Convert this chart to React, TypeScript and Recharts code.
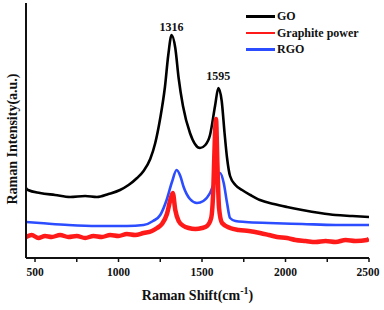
import React from "react";
import { LineChart, Line, XAxis, YAxis, ReferenceDot } from "recharts";

const goData = [
  { x: 446, y: 70 }, { x: 458, y: 68 }, { x: 530, y: 65 }, { x: 620, y: 63 },
  { x: 710, y: 61 }, { x: 800, y: 62 }, { x: 871, y: 61 }, { x: 940, y: 64 },
  { x: 1009, y: 68 }, { x: 1060, y: 73 }, { x: 1111, y: 80 }, { x: 1150, y: 87 },
  { x: 1190, y: 99 }, { x: 1220, y: 115 }, { x: 1250, y: 140 }, { x: 1278, y: 171 },
  { x: 1298, y: 203 }, { x: 1318, y: 223 }, { x: 1340, y: 210 }, { x: 1360, y: 180 },
  { x: 1386, y: 152 }, { x: 1428, y: 125 }, { x: 1488, y: 110 }, { x: 1520, y: 113 },
  { x: 1548, y: 123 }, { x: 1578, y: 152 }, { x: 1598, y: 170 }, { x: 1618, y: 157 },
  { x: 1635, y: 125 }, { x: 1650, y: 100 }, { x: 1668, y: 82 }, { x: 1700, y: 73 },
  { x: 1740, y: 68 }, { x: 1790, y: 63 }, { x: 1847, y: 58 }, { x: 1930, y: 54 },
  { x: 2009, y: 51 }, { x: 2100, y: 48 }, { x: 2207, y: 45 }, { x: 2300, y: 43 },
  { x: 2400, y: 42 }, { x: 2500, y: 41 },
];

const graphiteData = [
  { x: 446, y: 21 }, { x: 480, y: 23 }, { x: 520, y: 20 }, { x: 560, y: 22 },
  { x: 600, y: 21 }, { x: 650, y: 23 }, { x: 700, y: 21 }, { x: 750, y: 22 },
  { x: 800, y: 20 }, { x: 850, y: 22 }, { x: 900, y: 21 }, { x: 950, y: 23 },
  { x: 1000, y: 22 }, { x: 1050, y: 24 }, { x: 1100, y: 23 }, { x: 1150, y: 25 },
  { x: 1200, y: 27 }, { x: 1231, y: 30 }, { x: 1260, y: 34 }, { x: 1290, y: 44 },
  { x: 1310, y: 58 }, { x: 1325, y: 65 }, { x: 1340, y: 48 }, { x: 1360, y: 37 },
  { x: 1390, y: 32 }, { x: 1420, y: 30 }, { x: 1460, y: 29 }, { x: 1500, y: 30 },
  { x: 1530, y: 32 }, { x: 1555, y: 40 }, { x: 1568, y: 70 }, { x: 1577, y: 120 },
  { x: 1584, y: 139 }, { x: 1592, y: 95 }, { x: 1602, y: 50 }, { x: 1620, y: 35 },
  { x: 1668, y: 30 }, { x: 1720, y: 28 }, { x: 1780, y: 27 }, { x: 1847, y: 25 },
  { x: 1900, y: 23 }, { x: 1950, y: 21 }, { x: 2009, y: 20 }, { x: 2060, y: 18 },
  { x: 2120, y: 17 }, { x: 2180, y: 16 }, { x: 2240, y: 17 }, { x: 2300, y: 16 },
  { x: 2360, y: 18 }, { x: 2420, y: 17 }, { x: 2488, y: 18 }, { x: 2500, y: 19 },
];

const rgoData = [
  { x: 446, y: 36 }, { x: 530, y: 35 }, { x: 700, y: 33 }, { x: 871, y: 32 },
  { x: 1050, y: 32 }, { x: 1150, y: 33 }, { x: 1207, y: 37 }, { x: 1250, y: 43 },
  { x: 1288, y: 58 }, { x: 1320, y: 76 }, { x: 1348, y: 88 }, { x: 1370, y: 82 },
  { x: 1390, y: 71 }, { x: 1428, y: 59 }, { x: 1470, y: 55 }, { x: 1508, y: 57 },
  { x: 1548, y: 65 }, { x: 1578, y: 77 }, { x: 1608, y: 85 }, { x: 1630, y: 75 },
  { x: 1650, y: 55 }, { x: 1668, y: 40 }, { x: 1700, y: 37 }, { x: 1760, y: 36 },
  { x: 1900, y: 35 }, { x: 2100, y: 34 }, { x: 2300, y: 33 }, { x: 2500, y: 33 },
];

const xDomain = [446, 2500];
const yDomain = [0, 255];
const xTicks = [500, 750, 1000, 1250, 1500, 1750, 2000, 2250, 2500];
const xLabelTicks = [500, 1000, 1500, 2000, 2500];
const peakLabels = [
  { x: 1318, y: 223, text: "1316", offset: 4 },
  { x: 1598, y: 170, text: "1595", offset: 8 },
];
const seriesNames = ["GO", "Graphite power", "RGO"];
const seriesColors = ["#000000", "#ff1a1a", "#2b4cff"];

const FONT = "'Liberation Serif', 'Times New Roman', Times, serif";

const XTick = (props: any) => {
  const { x, y, payload } = props;
  if (!xLabelTicks.includes(payload.value)) return null;
  return (
    <text x={x} y={y} dy="0.71em" textAnchor="middle" style={{ fontFamily: FONT, fontWeight: 700, fontSize: 11.5 }} fill="#111">
      {payload.value}
    </text>
  );
};

const XTitle = (props: any) => {
  const { viewBox } = props;
  const cx = viewBox.x + viewBox.width / 2;
  return (
    <text x={cx} y={300} textAnchor="middle" style={{ fontFamily: FONT, fontWeight: 700, fontSize: 14 }} fill="#111">
      <tspan>Raman Shift(cm</tspan>
      <tspan dy={-6} style={{ fontSize: 10 }}>-1</tspan>
      <tspan dy={6}>)</tspan>
    </text>
  );
};

const YTitle = () => {
  return (
    <text x={0} y={0} transform="translate(17,139) rotate(-90)" textAnchor="middle" style={{ fontFamily: FONT, fontWeight: 700, fontSize: 14 }} fill="#111">
      Raman Intensity(a.u.)
    </text>
  );
};

const LegendBox = () => (
  <div style={{ position: "absolute", left: 246, top: 8, fontFamily: FONT, fontWeight: 700, fontSize: 12, color: "#111", lineHeight: "16.5px" }}>
    {seriesNames.map((n, i) => (
      <div key={n} style={{ display: "flex", alignItems: "center", height: 16.5 }}>
        <div style={{ width: 29, height: 2.5, background: seriesColors[i], marginRight: 2 }} />
        <span>{n}</span>
      </div>
    ))}
  </div>
);

export default function App() {
  return (
    <div style={{ position: "absolute", left: 0, top: 0, width: 384, height: 310, background: "#fff" }}>
      <LineChart width={384} height={310} margin={{ top: 3, right: 15, left: 0, bottom: 0 }}>
        <XAxis
          dataKey="x"
          type="number"
          domain={xDomain}
          ticks={xTicks}
          tick={<XTick />}
          tickSize={4}
          tickMargin={6}
          height={52}
          allowDataOverflow
          axisLine={{ stroke: "#111", strokeWidth: 2 }}
          tickLine={{ stroke: "#111", strokeWidth: 1.5 }}
          label={<XTitle />}
        />
        <XAxis
          xAxisId="top"
          orientation="top"
          dataKey="x"
          type="number"
          domain={xDomain}
          allowDataOverflow
          height={0}
          tick={false}
          tickLine={false}
          axisLine={{ stroke: "#111", strokeWidth: 2 }}
        />
        <YAxis type="number" domain={yDomain} width={26} tick={false} tickLine={false} axisLine={{ stroke: "#111", strokeWidth: 2 }} label={<YTitle />} />
        <YAxis
          yAxisId="right"
          orientation="right"
          type="number"
          domain={yDomain}
          allowDataOverflow
          width={0}
          tick={false}
          tickLine={false}
          axisLine={{ stroke: "#111", strokeWidth: 2 }}
        />
        <Line data={goData} dataKey="y" name="GO" xAxisId="top" type="monotone" stroke={seriesColors[0]} strokeWidth={2.6} dot={false} isAnimationActive={false} />
        <Line data={rgoData} dataKey="y" name="RGO" yAxisId="right" type="monotone" stroke={seriesColors[2]} strokeWidth={2.6} dot={false} isAnimationActive={false} />
        <Line data={graphiteData} dataKey="y" name="Graphite power" type="monotone" stroke={seriesColors[1]} strokeWidth={4.5} dot={false} isAnimationActive={false} />
        {peakLabels.map((p) => (
          <ReferenceDot
            key={p.text}
            x={p.x}
            y={p.y}
            r={0}
            stroke="none"
            fill="none"
            label={{ value: p.text, position: "top", offset: p.offset, style: { fontFamily: FONT, fontWeight: 700, fontSize: 12 }, fill: "#111" }}
          />
        ))}
      </LineChart>
      <LegendBox />
    </div>
  );
}
